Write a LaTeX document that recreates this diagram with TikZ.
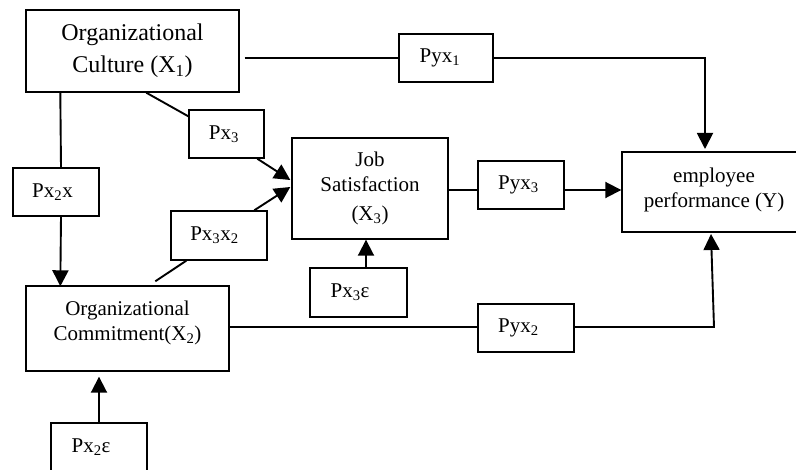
\documentclass[tikz,border=0pt]{standalone}
\usepackage{fontspec}
\setmainfont{Liberation Serif}
\usetikzlibrary{arrows.meta}
\begin{document}
\begin{tikzpicture}[x=1pt,y=-1pt,
  box/.style={draw, line width=1.4pt, inner sep=0pt, align=center},
  bigtext/.style={font=\fontsize{24}{32}\selectfont},
  txt/.style={font=\fontsize{21}{25}\selectfont},
  lbl/.style={box, txt, minimum height=48},
  conn/.style={line width=1.9pt},
  arr/.style={conn, -{Triangle[length=16pt,width=16pt]}}]
\useasboundingbox (0,0) rectangle (796,470);
\clip (0,0) rectangle (796,470);

% main boxes
\node[box,bigtext,minimum width=213,minimum height=82] (oc) at (132.5,51) {Organizational\\Culture (X\textsubscript{1})};
\node[box,txt,minimum width=156,minimum height=101] (js) at (370,188.5) {Job\\Satisfaction\\[4pt](X\textsubscript{3})};
\node[box,minimum width=212,minimum height=80] (emp) at (728,192) {};
\node[txt,align=center,inner sep=0pt] (emptxt) at (714,190) {employee\\performance (Y)};
\node[box,minimum width=203,minimum height=85] (ocom) at (127.5,328.5) {};
\node[txt,align=center,inner sep=0pt] (ocomtxt) at ([yshift=6pt]ocom.center) {Organizational\\Commitment(X\textsubscript{2})};

% coefficient boxes
\node[lbl,minimum width=94] (pyx1) at (446,58) {Pyx\textsubscript{1}\hspace*{12pt}};
\node[lbl,minimum width=75] (px3) at (226.5,134) {Px\textsubscript{3}\hspace*{5pt}};
\node[lbl,minimum width=86] (px2x) at (56,192) {Px\textsubscript{2}x\hspace*{7pt}};
\node[lbl,minimum width=86] (pyx3) at (521,185) {Pyx\textsubscript{3}\hspace*{5pt}};
\node[lbl,minimum width=96,minimum height=49] (px3x2) at (219,235.5) {Px\textsubscript{3}x\textsubscript{2}\hspace*{9pt}};
\node[lbl,minimum width=97,minimum height=49] (px3e) at (358.5,292.5) {Px\textsubscript{3}ε\hspace*{17pt}};
\node[lbl,minimum width=96] (pyx2) at (526,328) {Pyx\textsubscript{2}\hspace*{15pt}};
\node[lbl,minimum width=96] (px2e) at (99,447) {Px\textsubscript{2}ε\hspace*{16pt}};

% helper coordinates
\coordinate (c0) at ([xshift=5pt]oc.east);
\coordinate (ctop) at (705,149);
\coordinate (l3) at (0,190);
\coordinate (l2) at (0,327);
\coordinate (b1) at (714,327);
\coordinate (b2) at (711,234);
\coordinate (o2) at ([yshift=-5pt]ocom.south);

% connectors
\draw[conn] (c0 |- pyx1.west) -- (pyx1.west);
\draw[arr] (pyx1.east) -| (ctop);

\draw[conn] ([xshift=121pt]oc.south west) -- ([yshift=-7pt]px3.north west);
\draw[arr] ([xshift=69pt]px3.south west) -- ([xshift=-1pt,yshift=8.5pt]js.west);

\draw[arr] ([xshift=84pt]px3x2.north west) -- ([xshift=-1pt,yshift=1.5pt]js.west);
\draw[conn] ([xshift=130pt,yshift=4pt]ocom.north west) -- ([xshift=16pt]px3x2.south west);

\draw[conn] ([xshift=35pt]oc.south west) -- ([xshift=5pt]px2x.north);
\draw[arr] ([xshift=5pt]px2x.south) -- ([xshift=35pt,yshift=-1pt]ocom.north west);

\draw[conn] (js.east |- l3) -- (pyx3.west |- l3);
\draw[arr] (pyx3.east |- l3) -- (emp.west |- l3);

\draw[arr] ([xshift=7.5pt]px3e.north) -- ([xshift=-4pt]js.south);

\draw[conn] (ocom.east |- l2) -- (pyx2.west |- l2);
\draw[arr] (pyx2.east |- l2) -- (b1) -- (b2);

\draw[arr] (px2e.north) -- (o2 -| px2e.north);
\end{tikzpicture}
\end{document}
